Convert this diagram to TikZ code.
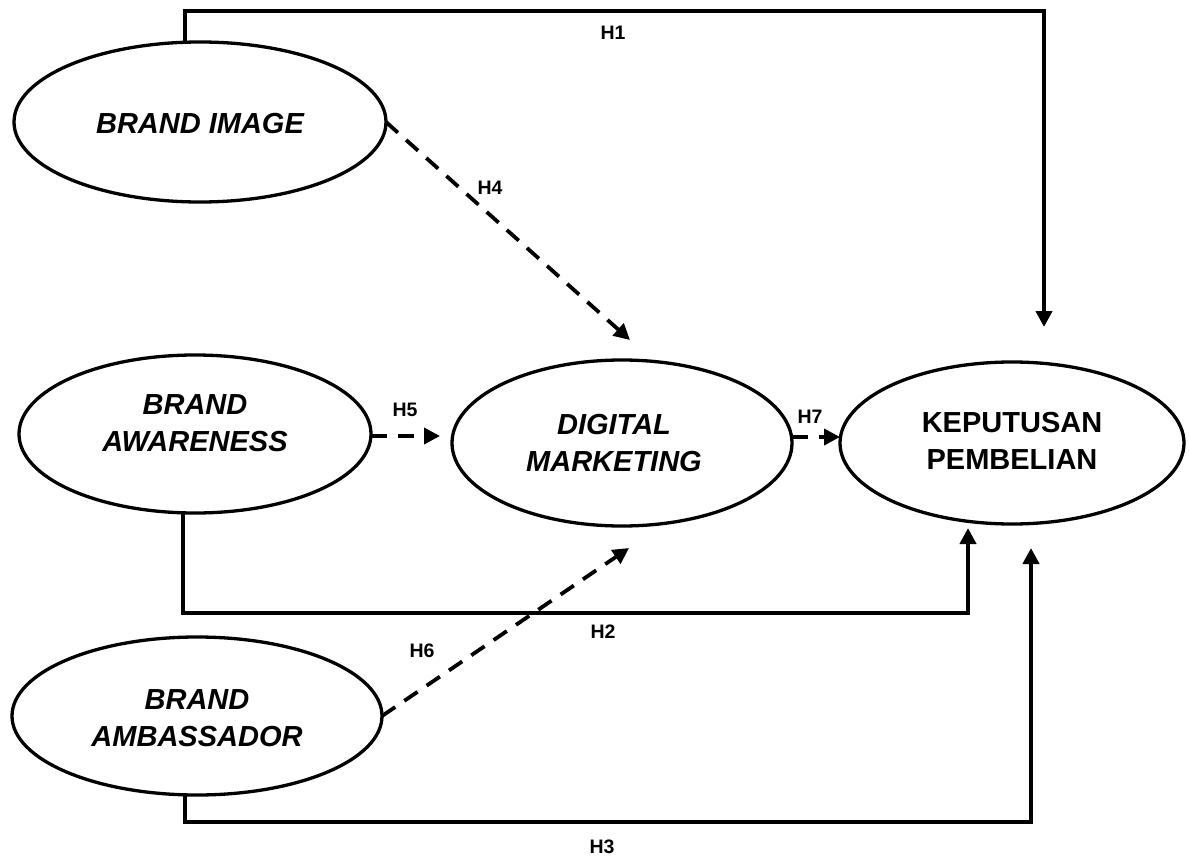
\documentclass[tikz,border=0pt]{standalone}
\usepackage{fontspec}
\setmainfont{Liberation Sans}
\usetikzlibrary{arrows.meta,shapes.geometric}
\begin{document}
\begin{tikzpicture}[x=1pt,y=-1pt,
  var/.style={ellipse,draw,line width=3.3pt,inner sep=0pt,outer sep=0pt},
  vtext/.style={font=\fontsize{29}{37}\selectfont\bfseries\itshape,align=center,inner sep=0pt},
  ytext/.style={font=\fontsize{29}{37}\selectfont\bfseries,align=center,inner sep=0pt},
  hlab/.style={font=\fontsize{19.5}{21}\selectfont\bfseries,inner sep=0pt},
  solidarrow/.style={line width=4.5pt,-{Triangle[length=16pt,width=16pt]}},
  dasharrow/.style={line width=3.8pt,dash pattern=on 16pt off 11pt,-{Triangle[length=16pt,width=16pt]}}
]
\useasboundingbox (0,0) rectangle (1189,859);

% ellipses
\node[var,minimum width=372pt,minimum height=160pt] (img) at (200,122) {};
\node[var,minimum width=352pt,minimum height=158pt] (aw) at (195,434) {};
\node[var,minimum width=370pt,minimum height=158pt] (amb) at (197,716) {};
\node[var,minimum width=340pt,minimum height=166pt] (dm) at (622,443) {};
\node[var,minimum width=344pt,minimum height=162pt] (kp) at (1012,443) {};

% texts
\node[vtext] (imgt) at (200,124) {BRAND IMAGE};
\node[vtext] (awt) at (195,423) {BRAND\\AWARENESS};
\node[vtext] (ambt) at (197,718) {BRAND\\AMBASSADOR};
\node[vtext] (dmt) at (614,443) {DIGITAL\\MARKETING};
\node[ytext] (kpt) at (1012,441) {KEPUTUSAN\\PEMBELIAN};

% free ends
\coordinate (h1c) at (1044,11);
\coordinate (h1end) at (1044,327);
\coordinate (h2c) at (968,613);
\coordinate (h2end) at (968,528);
\coordinate (h3c) at (1031,822);
\coordinate (h3end) at (1031,548);
\coordinate (h4end) at (630,340);
\coordinate (h5end) at (440,436);
\coordinate (h6end) at (629,548);

% solid connectors
\draw[solidarrow] ([xshift=-15pt]img.north) |- (h1c) -- (h1end);
\draw[solidarrow] ([xshift=-12pt]aw.south) |- (h2c) -- (h2end);
\draw[solidarrow] ([xshift=-12pt]amb.south) |- (h3c) -- (h3end);

% dashed connectors
\draw[dasharrow] (img.east) -- (h4end);
\draw[dasharrow] (aw.east |- h5end) -- (h5end);
\draw[dasharrow] (amb.east) -- (h6end);
\draw[dasharrow] (dm.east |- 0,437) -- (kp.west |- 0,437);

% labels
\node[hlab] (l1) at (613,33) {H1};
\node[hlab] (l2) at (603,632) {H2};
\node[hlab] (l3) at (602,847) {H3};
\node[hlab] (l4) at (490,188) {H4};
\node[hlab] (l5) at (405,410) {H5};
\node[hlab] (l6) at (422,651) {H6};
\node[hlab] (l7) at (810,417) {H7};
\end{tikzpicture}
\end{document}
